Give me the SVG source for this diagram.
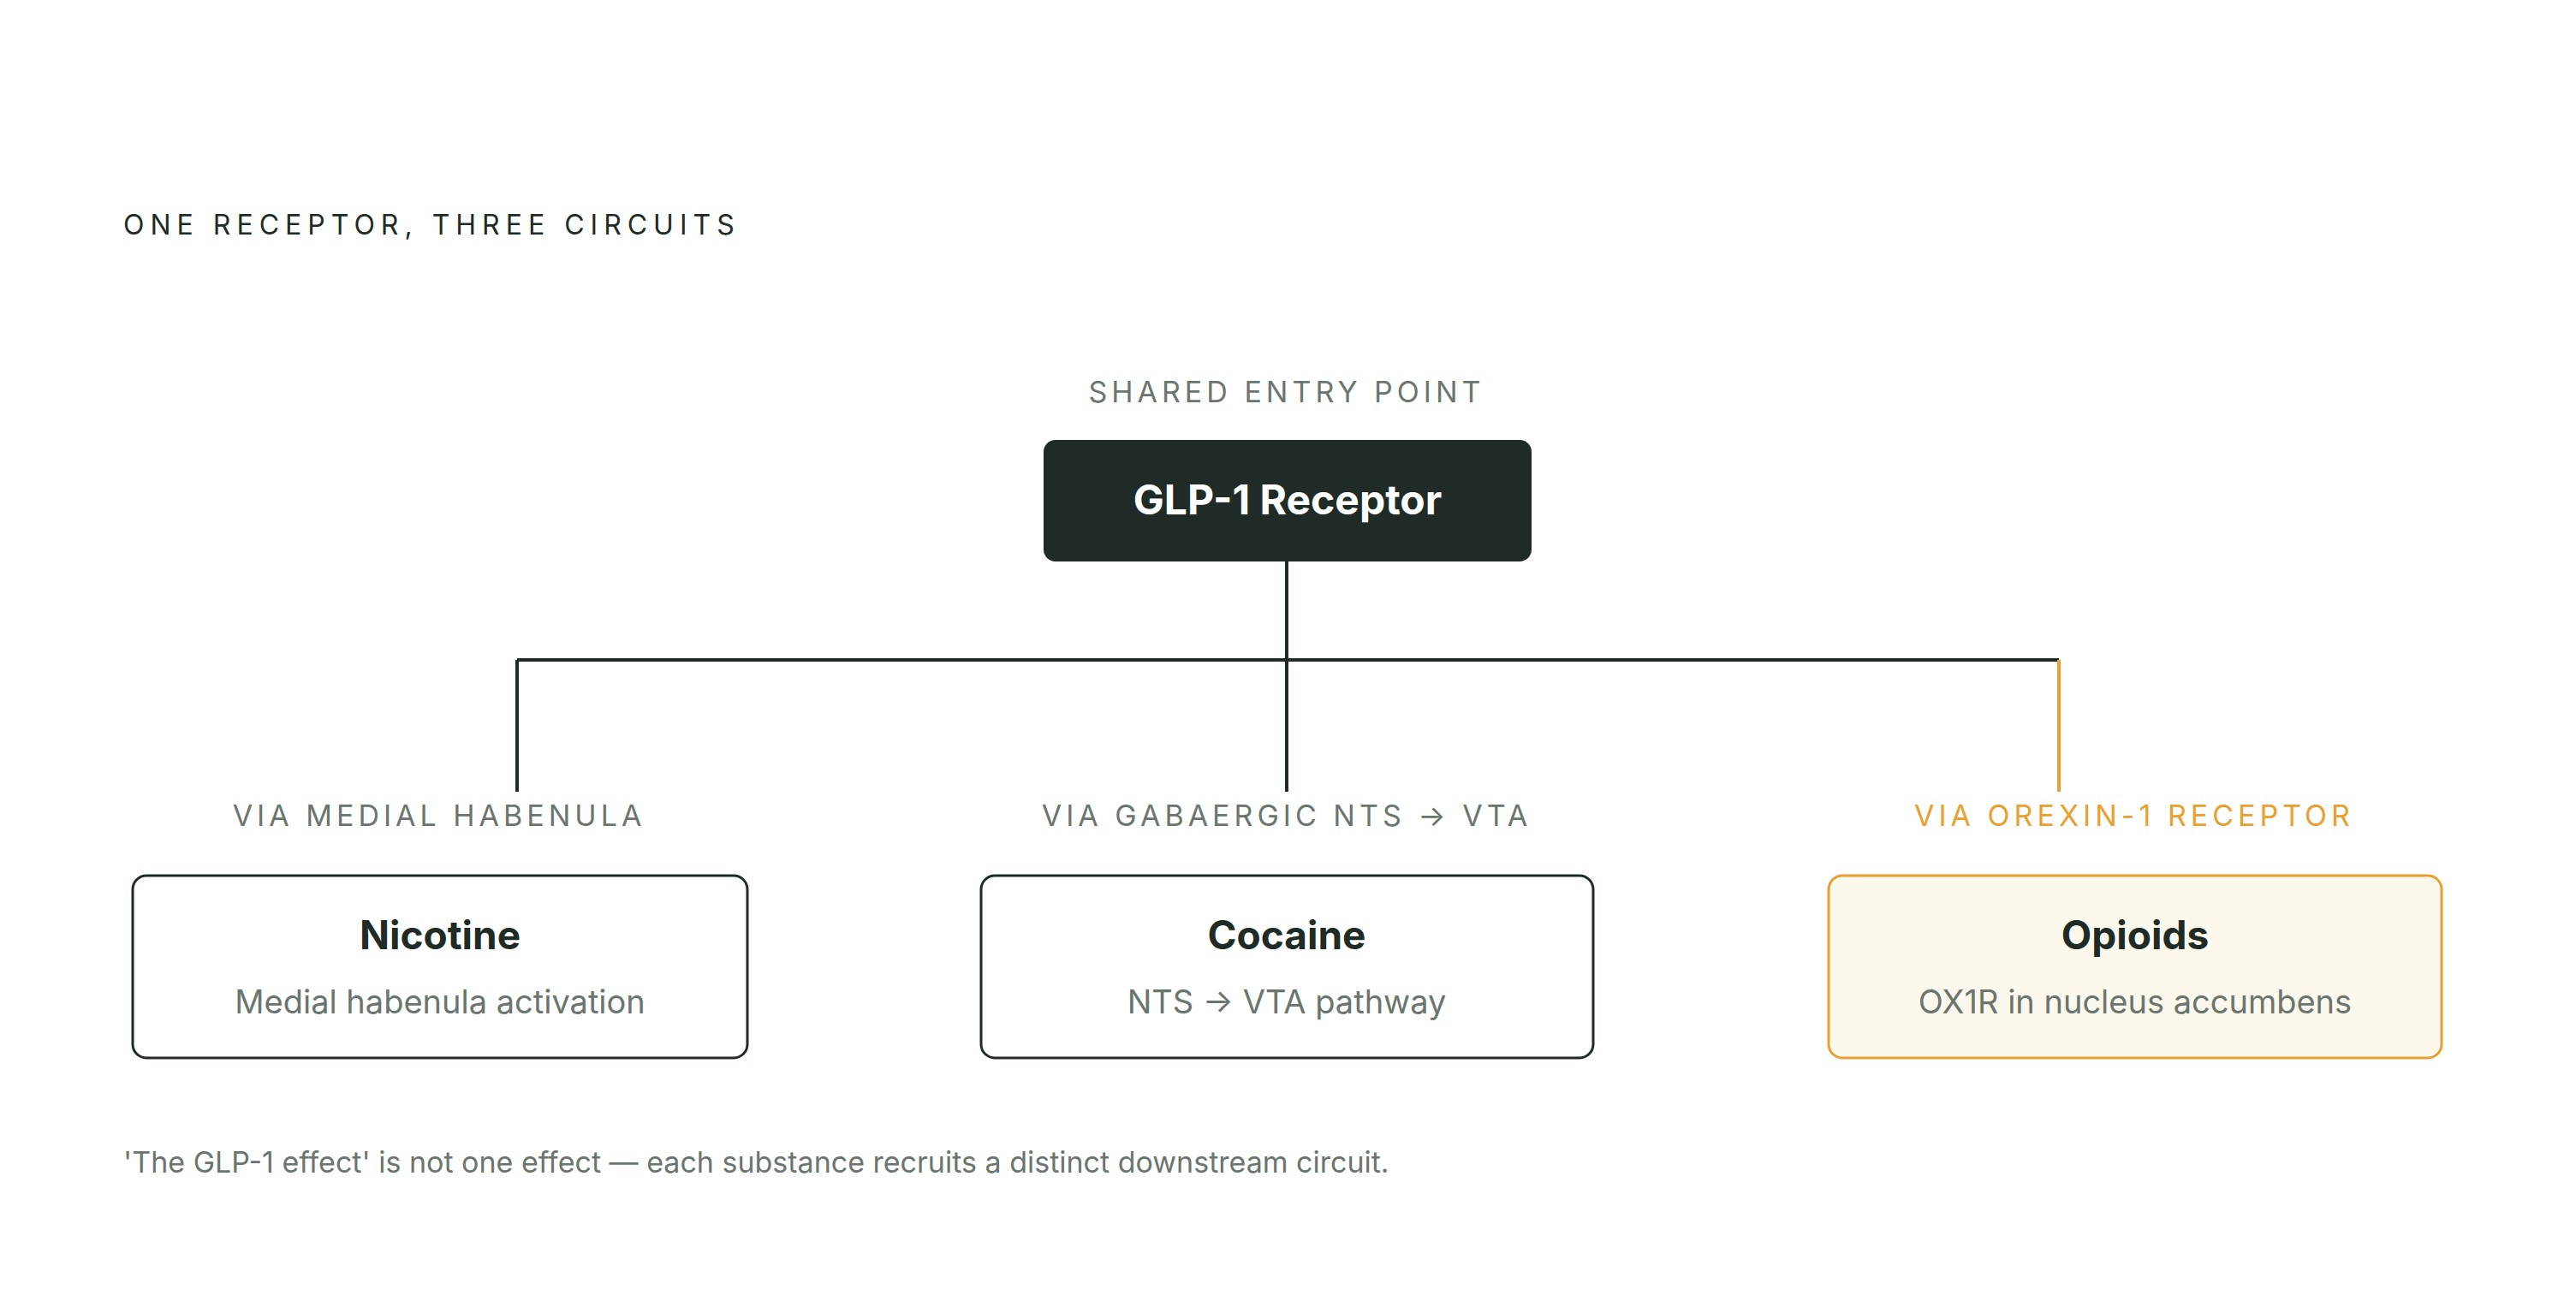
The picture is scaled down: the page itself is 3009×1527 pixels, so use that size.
<svg xmlns="http://www.w3.org/2000/svg" width="3009" height="1527" viewBox="0 0 3009 1527">
<style>
text{font-family:Inter,"Liberation Sans",sans-serif}
.cap{font-size:34px;letter-spacing:5px;fill:#6b756f;text-anchor:middle}
.title{font-size:46px;font-weight:700;fill:#1f2b26;text-anchor:middle}
.sub{font-size:38px;fill:#6b756f;text-anchor:middle}
.box{fill:#fff;stroke:#1f2b26;stroke-width:3}
.line{stroke:#1f2b26;stroke-width:4;fill:none}
</style>
<rect width="3009" height="1527" fill="#fff"/>
<text x="144" y="274" style="font-size:32px;letter-spacing:7px;fill:#1f2b26">ONE RECEPTOR, THREE CIRCUITS</text>
<g id="connectors">
<path class="line" d="M1503 656V925M604 771H2405M604 771V925"/>
<path d="M2405 771V925" stroke="#e8a030" stroke-width="4"/>
</g>
<g id="glp1">
<text class="cap" x="1503" y="470">SHARED ENTRY POINT</text>
<rect x="1219" y="514" width="570" height="142" rx="14" fill="#1f2b26"/>
<text x="1504" y="601" style="font-size:48px;font-weight:700;fill:#fff;text-anchor:middle">GLP-1 Receptor</text>
</g>
<g id="nicotine">
<text class="cap" x="513" y="965">VIA MEDIAL HABENULA</text>
<rect class="box" x="155" y="1023" width="718" height="213" rx="16"/>
<text class="title" x="514" y="1109">Nicotine</text>
<text class="sub" x="514" y="1184">Medial habenula activation</text>
</g>
<g id="cocaine">
<text class="cap" x="1503" y="965">VIA GABAERGIC NTS → VTA</text>
<rect class="box" x="1146" y="1023" width="715" height="213" rx="16"/>
<text class="title" x="1503" y="1109">Cocaine</text>
<text class="sub" x="1503" y="1184">NTS → VTA pathway</text>
</g>
<g id="opioids">
<text class="cap" x="2493" y="965" style="fill:#e8a030">VIA OREXIN-1 RECEPTOR</text>
<rect x="2136" y="1023" width="716" height="213" rx="16" fill="#fdf8ec" stroke="#e8a030" stroke-width="3"/>
<text class="title" x="2494" y="1109">Opioids</text>
<text class="sub" x="2494" y="1184">OX1R in nucleus accumbens</text>
</g>
<text x="144" y="1370" style="font-size:34px;fill:#6b756f">'The GLP-1 effect' is not one effect — each substance recruits a distinct downstream circuit.</text>
</svg>
